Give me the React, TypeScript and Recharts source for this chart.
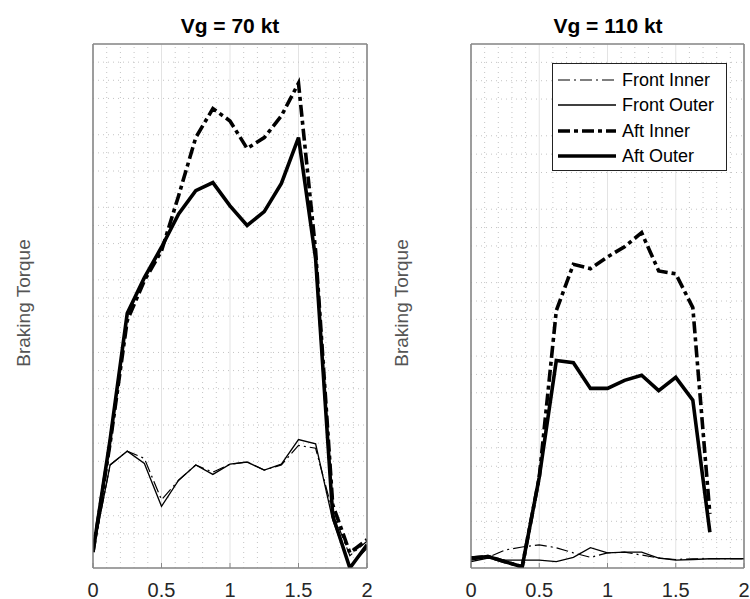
import React from 'react'
import { LineChart, Line, XAxis, YAxis, CartesianGrid, ReferenceLine } from 'recharts'

// time axis (shared by both panels)
const xValues = [0, 0.125, 0.25, 0.375, 0.5, 0.625, 0.75, 0.875, 1, 1.125, 1.25, 1.375, 1.5, 1.625, 1.75, 1.875, 2]
const xTicks = [0, 0.5, 1, 1.5, 2]
const yTicks = [0, 1, 2, 3, 4, 5, 6, 7]
const minorX = [0.1, 0.2, 0.3, 0.4, 0.6, 0.7, 0.8, 0.9, 1.1, 1.2, 1.3, 1.4, 1.6, 1.7, 1.8, 1.9]
const minorY = [0.25, 0.5, 0.75, 1.25, 1.5, 1.75, 2.25, 2.5, 2.75, 3.25, 3.5, 3.75, 4.25, 4.5, 4.75, 5.25, 5.5, 5.75, 6.25, 6.5, 6.75]

// Vg = 70 kt
const frontInner70 = [0, 1.2, 1.39, 1.29, 0.72, 0.99, 1.2, 1.1, 1.21, 1.24, 1.13, 1.2, 1.47, 1.43, 0.55, -0.05, 0.15]
const frontOuter70 = [0, 1.2, 1.39, 1.22, 0.63, 0.99, 1.2, 1.07, 1.21, 1.24, 1.13, 1.21, 1.55, 1.49, 0.44, -0.2, 0.05]
const aftInner70 = [0, 1.5, 3.19, 3.74, 4.15, 4.91, 5.71, 6.11, 5.94, 5.56, 5.71, 6.01, 6.46, 4.15, 0.65, -0.01, 0.17]
const aftOuter70 = [0, 1.55, 3.29, 3.78, 4.2, 4.66, 4.98, 5.09, 4.77, 4.5, 4.69, 5.08, 5.71, 4.04, 0.5, -0.22, 0.1]

// Vg = 110 kt
const frontInner110 = [-0.03, 0.01, 0.11, 0.15, 0.18, 0.14, 0.07, 0.01, 0.07, 0.08, 0.04, 0, -0.02, -0.01, -0.01, -0.01, -0.01]
const frontOuter110 = [-0.05, 0, -0.03, -0.03, -0.03, -0.05, 0.01, 0.14, 0.07, 0.08, 0.08, 0, -0.03, -0.02, -0.01, -0.01, -0.01]
const aftInner110 = [0, 0.02, -0.05, -0.12, 1.1, 3.37, 4.0, 3.94, 4.1, 4.24, 4.43, 3.91, 3.87, 3.41, 0.6, null, null]
const aftOuter110 = [0, 0.02, -0.05, -0.12, 1.1, 2.69, 2.66, 2.31, 2.31, 2.42, 2.49, 2.28, 2.46, 2.15, 0.35, null, null]

const series = [
  { key: 'frontInner', name: 'Front Inner', width: 1.2, dash: '12 4 2 4' },
  { key: 'frontOuter', name: 'Front Outer', width: 1.3, dash: undefined },
  { key: 'aftInner', name: 'Aft Inner', width: 3.6, dash: '12 4 4 4' },
  { key: 'aftOuter', name: 'Aft Outer', width: 3.6, dash: undefined },
]

const buildRows = (fi: (number | null)[], fo: (number | null)[], ai: (number | null)[], ao: (number | null)[]) =>
  xValues.map((x, i) => ({ x, frontInner: fi[i], frontOuter: fo[i], aftInner: ai[i], aftOuter: ao[i] }))

const data70 = buildRows(frontInner70, frontOuter70, aftInner70, aftOuter70)
const data110 = buildRows(frontInner110, frontOuter110, aftInner110, aftOuter110)

const frame = '#888888'

interface PanelProps {
  data: any[]
  yMin: number
  width: number
  left: number
  marginLeft: number
  marginRight: number
}

const Panel: React.FC<PanelProps> = ({ data, yMin, width, left, marginLeft, marginRight }) => (
  <div style={{ position: 'absolute', left, top: 0 }}>
    <LineChart
      width={width}
      height={599}
      data={data}
      margin={{ top: 43, right: marginRight, bottom: 1, left: marginLeft }}
    >
      <CartesianGrid stroke="#e3e3e3" />
      {minorX.map(v => (
        <ReferenceLine key={'mx' + v} x={v} stroke="#c4c4c4" strokeDasharray="1 4" zIndex={-50} />
      ))}
      {minorY.map(v => (
        <ReferenceLine key={'my' + v} y={v} stroke="#c4c4c4" strokeDasharray="1 4" zIndex={-50} />
      ))}
      {/* axes box */}
      <ReferenceLine x={0} stroke={frame} strokeWidth={1.2} />
      <ReferenceLine x={2} stroke={frame} strokeWidth={1.2} />
      <ReferenceLine y={7} stroke={frame} strokeWidth={1.2} />
      <ReferenceLine y={yMin} stroke={frame} strokeWidth={1.2} />
      <XAxis
        dataKey="x"
        type="number"
        domain={[0, 2]}
        ticks={xTicks}
        height={30}
        tickSize={-5}
        tickMargin={20}
        axisLine={{ stroke: frame }}
        tickLine={{ stroke: frame }}
        tick={{ fontSize: 20, fill: '#262626' }}
        allowDataOverflow
      />
      <XAxis
        xAxisId="top"
        orientation="top"
        type="number"
        domain={[0, 2]}
        ticks={xTicks}
        height={1}
        tickSize={-5}
        tick={false}
        axisLine={{ stroke: frame }}
        tickLine={{ stroke: frame }}
        allowDataOverflow
      />
      <YAxis
        type="number"
        domain={[yMin, 7]}
        ticks={yTicks}
        width={1}
        tickSize={-5}
        tick={false}
        axisLine={{ stroke: frame }}
        tickLine={{ stroke: frame }}
        allowDataOverflow
      />
      <YAxis
        yAxisId="right"
        orientation="right"
        type="number"
        domain={[yMin, 7]}
        ticks={yTicks}
        width={1}
        tickSize={-5}
        tick={false}
        axisLine={{ stroke: frame }}
        tickLine={{ stroke: frame }}
        allowDataOverflow
      />
      {series.map(s => (
        <Line
          key={s.key}
          type="linear"
          dataKey={s.key}
          name={s.name}
          stroke="#000"
          strokeWidth={s.width}
          strokeDasharray={s.dash}
          dot={false}
          activeDot={false}
          isAnimationActive={false}
        />
      ))}
    </LineChart>
  </div>
)

const App: React.FC = () => {
  const legendRows = [80, 105, 131, 156]
  return (
    <div
      style={{
        position: 'absolute',
        left: 0,
        top: 0,
        width: 750,
        height: 599,
        background: '#fff',
        fontFamily: '"Liberation Sans", Arial, sans-serif',
      }}
    >
      <Panel data={data70} yMin={-0.22} width={381} left={0} marginLeft={92} marginRight={13} />
      <Panel data={data110} yMin={-0.136} width={371} left={379} marginLeft={91} marginRight={5} />

      <svg width={750} height={599} style={{ position: 'absolute', left: 0, top: 0, pointerEvents: 'none' }}>
        <text x={230} y={33} textAnchor="middle" fontSize={21} fontWeight="bold" fill="#000">
          Vg = 70 kt
        </text>
        <text x={608} y={33} textAnchor="middle" fontSize={21} fontWeight="bold" fill="#000">
          Vg = 110 kt
        </text>
        <text transform="translate(30,303) rotate(-90)" textAnchor="middle" fontSize={19} fill="#555">
          Braking Torque
        </text>
        <text transform="translate(408,303) rotate(-90)" textAnchor="middle" fontSize={19} fill="#555">
          Braking Torque
        </text>

        <rect x={552.5} y={63.5} width={174} height={107} fill="#fff" stroke="#222" strokeWidth={1} />
        {series.map((s, i) => (
          <g key={s.key}>
            <line
              x1={558}
              x2={616}
              y1={legendRows[i]}
              y2={legendRows[i]}
              stroke="#000"
              strokeWidth={s.width}
              strokeDasharray={s.dash}
            />
            <text x={622} y={legendRows[i] + 6} fontSize={18} fill="#000">
              {s.name}
            </text>
          </g>
        ))}
      </svg>
    </div>
  )
}

export default App
